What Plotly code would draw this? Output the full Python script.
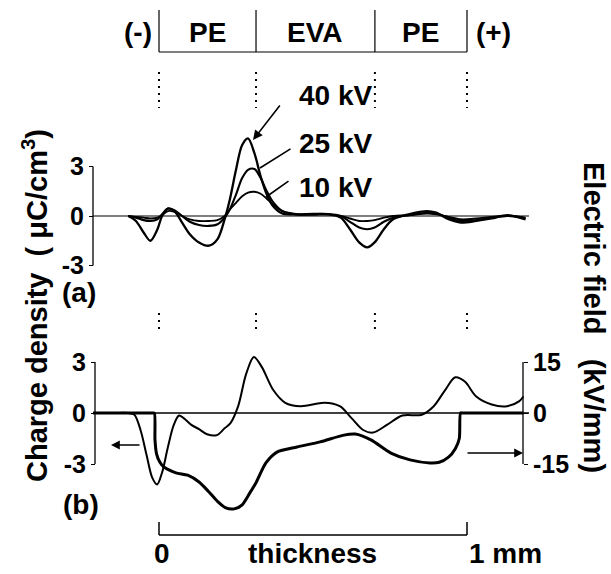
import plotly.graph_objects as go

W, H = 611, 574

# ---------------- data ----------------
layer_names = ["PE", "EVA", "PE"]
layer_bounds_mm = [0.0, 0.315, 0.701, 1.0]
voltage_labels = ["40 kV", "25 kV", "10 kV"]

# panel (a): charge density at three voltages (uC/cm3) vs position (mm)
x_a = [-0.10, -0.075, -0.05, -0.028, -0.005, 0.01, 0.029, 0.05, 0.075, 0.10,
       0.13, 0.162, 0.19, 0.213, 0.23, 0.25, 0.27, 0.289, 0.31, 0.33,
       0.35, 0.37, 0.40, 0.45, 0.50, 0.55, 0.59, 0.62, 0.65, 0.676,
       0.70, 0.73, 0.76, 0.81, 0.87, 0.90, 0.94, 0.98, 1.03, 1.08,
       1.13, 1.17, 1.19]
rho_40 = [0, -0.3, -1.0, -1.5, -0.8, 0.0, 0.45, 0.3, -0.4, -1.1,
          -1.6, -1.8, -1.4, -0.2, 1.0, 2.8, 4.3, 4.7, 3.8, 2.4,
          1.3, 0.6, 0.15, 0.1, 0.12, 0.1, -0.1, -0.8, -1.6, -1.9,
          -1.6, -0.8, -0.2, 0.1, 0.3, 0.2, -0.2, -0.4, -0.3, -0.15,
          0.05, -0.1, -0.2]
rho_25 = [0, -0.1, -0.25, -0.3, -0.2, 0.1, 0.45, 0.35, 0.0, -0.35,
          -0.55, -0.6, -0.5, -0.1, 0.4, 1.3, 2.3, 2.8, 2.85, 2.3,
          1.5, 0.85, 0.3, 0.1, 0.12, 0.12, 0.0, -0.35, -0.7, -0.8,
          -0.7, -0.35, -0.1, 0.05, 0.2, 0.15, -0.1, -0.3, -0.25, -0.1,
          0.0, -0.05, -0.15]
rho_10 = [0, -0.05, -0.1, -0.15, -0.1, 0.05, 0.3, 0.25, 0.0, -0.2,
          -0.3, -0.3, -0.25, 0.0, 0.4, 0.8, 1.2, 1.42, 1.47, 1.35,
          1.05, 0.7, 0.3, 0.08, 0.08, 0.1, 0.0, -0.15, -0.3, -0.3,
          -0.25, -0.1, 0.0, 0.05, 0.15, 0.1, -0.05, -0.2, -0.15, -0.05,
          0.0, -0.05, -0.1]

# panel (b): charge density (uC/cm3)
x_b = [-0.214, -0.15, -0.10, -0.08, -0.06, -0.04, -0.022, -0.006, 0.01, 0.029,
       0.048, 0.065, 0.08, 0.105, 0.13, 0.156, 0.188, 0.213, 0.232, 0.257,
       0.283, 0.308, 0.334, 0.371, 0.41, 0.46, 0.537, 0.587, 0.625, 0.663,
       0.695, 0.74, 0.79, 0.853, 0.892, 0.929, 0.962, 0.993, 1.03, 1.08,
       1.13, 1.17, 1.183]
rho_b = [0, 0, 0, -0.1, -1.0, -2.5, -3.8, -4.2, -3.5, -2.0,
         -0.7, -0.15, -0.3, -0.7, -0.95, -1.25, -1.3, -0.9, -0.6, 0.4,
         2.3, 3.3, 2.7, 1.35, 0.6, 0.4, 0.6, 0.4, -0.3, -1.0,
         -1.15, -0.7, -0.15, -0.1, 0.4, 1.35, 2.1, 1.85, 0.97, 0.5,
         0.4, 0.7, 0.97]

# panel (b): electric field (kV/mm)
x_e = [-0.214, -0.10, -0.02, -0.015, -0.013, -0.008, 0.003, 0.016, 0.055, 0.093,
       0.13, 0.16, 0.19, 0.215, 0.244, 0.27, 0.295, 0.315, 0.347, 0.383,
       0.448, 0.523, 0.6, 0.637, 0.688, 0.753, 0.815, 0.88, 0.91, 0.94,
       0.962, 0.975, 0.979, 0.985, 1.10, 1.183]
field_e = [0, 0, 0, 0, -8, -12, -14.5, -15.9, -17.6, -18.3,
           -20.3, -23, -26, -27.8, -28.2, -27, -23.5, -20.5, -14.7, -11.5,
           -10, -8.5, -6.5, -6.2, -7.9, -11.8, -13.8, -14.7, -14.5, -13,
           -10.5, -7.5, 0, 0, 0, 0]

ticks_rho = [-3, 0, 3]
ticks_field = [-15, 0, 15]

# ---------------- geometry (pixels of the 611x574 page) ----------------
X0_PX, PX_PER_MM = 159.0, 308.0
A_ZERO_PX, A_PX_PER_UNIT = 216.0, 16.5
B_ZERO_PX, B_PX_PER_UNIT = 413.0, 17.0
E_PX_PER_UNIT = 3.4
LEFT_AXIS_PX_A, LEFT_AXIS_PX_B, RIGHT_AXIS_PX = 93.0, 95.0, 523.0


def px(v):
    return v / W


def py(v):
    return 1 - v / H


def mm(p):
    return (p - X0_PX) / PX_PER_MM


FONT = "Liberation Sans, Arial, sans-serif"
BLACK = "black"

fig = go.Figure()

for xs, ys, w in [(x_a, rho_10, 1.9), (x_a, rho_25, 2.1), (x_a, rho_40, 2.3)]:
    fig.add_trace(go.Scatter(x=xs, y=ys, mode="lines", yaxis="y",
                             line=dict(color=BLACK, width=w, shape="spline", smoothing=0.9),
                             hoverinfo="skip"))

fig.add_trace(go.Scatter(x=x_b, y=rho_b, mode="lines", yaxis="y2",
                         line=dict(color=BLACK, width=2.0, shape="spline", smoothing=0.9),
                         hoverinfo="skip"))
fig.add_trace(go.Scatter(x=x_e, y=field_e, mode="lines", yaxis="y3",
                         line=dict(color=BLACK, width=3.0, shape="spline", smoothing=0.7),
                         hoverinfo="skip"))

shapes = []
# layer bracket at top
for b in layer_bounds_mm:
    shapes.append(dict(type="line", xref="x", yref="paper", x0=b, x1=b,
                       y0=py(10), y1=py(52), line=dict(color=BLACK, width=1.2)))
shapes.append(dict(type="line", xref="x", yref="paper", x0=layer_bounds_mm[0], x1=layer_bounds_mm[-1],
                   y0=py(52), y1=py(52), line=dict(color=BLACK, width=1.2)))
# dotted interface markers
for b in layer_bounds_mm:
    shapes.append(dict(type="line", xref="x", yref="paper", x0=b, x1=b,
                       y0=py(72), y1=py(108), line=dict(color=BLACK, width=2, dash="2px,5px")))
    shapes.append(dict(type="line", xref="x", yref="paper", x0=b, x1=b,
                       y0=py(313), y1=py(330), line=dict(color=BLACK, width=2, dash="2px,5px")))
# axis lines
shapes.append(dict(type="line", xref="paper", yref="y", x0=px(LEFT_AXIS_PX_A), x1=px(LEFT_AXIS_PX_A),
                   y0=-3, y1=3, line=dict(color=BLACK, width=1.3)))
shapes.append(dict(type="line", xref="paper", yref="y2", x0=px(LEFT_AXIS_PX_B), x1=px(LEFT_AXIS_PX_B),
                   y0=-3, y1=3, line=dict(color=BLACK, width=1.3)))
shapes.append(dict(type="line", xref="paper", yref="y3", x0=px(RIGHT_AXIS_PX), x1=px(RIGHT_AXIS_PX),
                   y0=-15, y1=15, line=dict(color=BLACK, width=1.3)))
# zero lines
shapes.append(dict(type="line", xref="x", yref="y", x0=mm(LEFT_AXIS_PX_A), x1=mm(529),
                   y0=0, y1=0, line=dict(color=BLACK, width=1.2)))
shapes.append(dict(type="line", xref="x", yref="y2", x0=mm(LEFT_AXIS_PX_B), x1=mm(529),
                   y0=0, y1=0, line=dict(color=BLACK, width=1.5)))
# thickness scale bar
shapes.append(dict(type="line", xref="x", yref="paper", x0=0, x1=1, y0=py(535), y1=py(535),
                   line=dict(color=BLACK, width=1.5)))
for b in [0, 1]:
    shapes.append(dict(type="line", xref="x", yref="paper", x0=b, x1=b, y0=py(522), y1=py(535),
                       line=dict(color=BLACK, width=1.5)))

annotations = []


def label(text, xp, yp, size=28, angle=0):
    annotations.append(dict(text=text, xref="paper", yref="paper", x=px(xp), y=py(yp),
                            xanchor="center", yanchor="middle", showarrow=False, textangle=angle,
                            font=dict(family=FONT, size=size, color=BLACK, weight="bold")))


label("(-)", 138, 33)
label("(+)", 493, 33)
for name, a, b in zip(layer_names, layer_bounds_mm[:-1], layer_bounds_mm[1:]):
    label(name, X0_PX + PX_PER_MM * (a + b) / 2, 33)

label(voltage_labels[0], 335, 96)
label(voltage_labels[1], 335, 143)
label(voltage_labels[2], 335, 188)
label("(a)", 79, 292)
label("(b)", 81, 504)
label("0", 162, 553)
label("thickness", 312, 553)
label("1 mm", 505, 553)
label("Charge density\u00a0\u00a0(\u00a0\u03bcC/cm<sup>3</sup>)", 35, 306, size=29, angle=-90)
label("Electric field\u00a0\u00a0\u00a0(kV/mm)", 594, 317, size=29, angle=90)

# pointer lines for voltage labels
annotations.append(dict(text="", xref="x", yref="y", x=mm(253), y=(A_ZERO_PX - 140) / A_PX_PER_UNIT,
                        ax=281 - 253, ay=104 - 140, showarrow=True, arrowhead=2, arrowsize=1.2,
                        arrowwidth=1.6, arrowcolor=BLACK))
annotations.append(dict(text="", xref="x", yref="y", x=mm(260), y=(A_ZERO_PX - 168) / A_PX_PER_UNIT,
                        ax=292 - 260, ay=148 - 168, showarrow=True, arrowhead=0,
                        arrowwidth=1.6, arrowcolor=BLACK))
annotations.append(dict(text="", xref="x", yref="y", x=mm(266), y=(A_ZERO_PX - 197) / A_PX_PER_UNIT,
                        ax=290 - 266, ay=180 - 197, showarrow=True, arrowhead=0,
                        arrowwidth=1.6, arrowcolor=BLACK))
# axis-assignment arrows in panel (b)
annotations.append(dict(text="", xref="paper", yref="paper", x=px(111), y=py(445),
                        ax=30, ay=0, showarrow=True, arrowhead=2, arrowsize=1.1,
                        arrowwidth=1.6, arrowcolor=BLACK))
annotations.append(dict(text="", xref="paper", yref="paper", x=px(RIGHT_AXIS_PX), y=py(453),
                        ax=-57, ay=0, showarrow=True, arrowhead=2, arrowsize=1.1,
                        arrowwidth=1.6, arrowcolor=BLACK))

tickfont = dict(family=FONT, size=25, color=BLACK, weight="bold")
common = dict(showgrid=False, zeroline=False, showline=False, ticks="outside", ticklen=4,
              tickwidth=1.3, tickcolor=BLACK, tickfont=tickfont, fixedrange=True,
              domain=[0, 1], anchor="free")

fig.update_layout(
    width=W, height=H,
    margin=dict(l=0, r=0, t=0, b=0),
    paper_bgcolor="white", plot_bgcolor="white",
    showlegend=False,
    font=dict(family=FONT, color=BLACK),
    xaxis=dict(range=[-X0_PX / PX_PER_MM, (W - X0_PX) / PX_PER_MM], visible=False,
               domain=[0, 1], fixedrange=True),
    yaxis=dict(range=[(A_ZERO_PX - H) / A_PX_PER_UNIT, A_ZERO_PX / A_PX_PER_UNIT],
               tickvals=ticks_rho, ticktext=[str(t) for t in ticks_rho],
               position=px(LEFT_AXIS_PX_A), side="left", **common),
    yaxis2=dict(range=[(B_ZERO_PX - H) / B_PX_PER_UNIT, B_ZERO_PX / B_PX_PER_UNIT],
                tickvals=ticks_rho, ticktext=[str(t) for t in ticks_rho],
                position=px(LEFT_AXIS_PX_B), side="left", overlaying="y", **common),
    yaxis3=dict(range=[(B_ZERO_PX - H) / E_PX_PER_UNIT, B_ZERO_PX / E_PX_PER_UNIT],
                tickvals=ticks_field, ticktext=[str(t) for t in ticks_field],
                position=px(RIGHT_AXIS_PX), side="right", overlaying="y", **common),
    shapes=shapes,
    annotations=annotations,
)

fig.write_html("out.html")
